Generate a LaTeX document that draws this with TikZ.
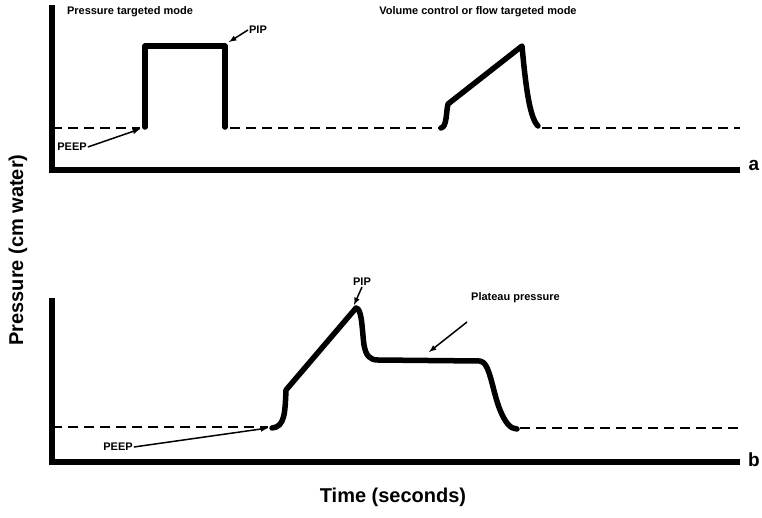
\documentclass[tikz,border=0pt]{standalone}
\usepackage{fontspec}
\setmainfont{Liberation Sans}
\usetikzlibrary{positioning}
\begin{document}
\begin{tikzpicture}[x=1pt,y=1pt,yscale=-1,xscale=1,
  axisline/.style={line width=6pt},
  waveline/.style={line width=5.5pt,line cap=round,line join=round},
  baseline/.style={line width=2.5pt,dash pattern=on 10pt off 6pt},
  pointer/.style={line width=1.5pt,-latex},
  lab/.style={font=\bfseries\fontsize{11}{12}\selectfont,inner sep=1pt}]
\useasboundingbox (0,0) rectangle (762,517);

%Panel a axes
\draw [axisline] (52,5) -- (52,170) -- (740,170);
\node [font=\bfseries\fontsize{19}{20}\selectfont] (tagA) at (754,165) {a};
%Panel a baseline
\draw [baseline] (52,128) -- (140,128);
\draw [baseline] (230,128) -- (440,128);
\draw [baseline] (542,128) -- (740,128);
%Pressure targeted pulse
\draw [waveline] (145,127) -- (145,46) -- (225,46) -- (225,127);
%Volume control wave
\draw [waveline] (441,128) .. controls (447,127) and (446,112) .. (448,104) -- (522,46) .. controls (526,90) and (530,118) .. (538,126);
\node [lab] (modeP) at (130,12) {Pressure targeted mode};
\node [lab] (modeV) at (478,12) {Volume control or flow targeted mode};
\node [lab] (pipA) at (258,30) {PIP};
\coordinate (pipAtip) at (229,42);
\draw [pointer] (pipA.west) -- (pipAtip);
\node [lab] (peepA) at (72,147) {PEEP};
\coordinate (peepAtip) at (140,129);
\draw [pointer] (peepA.east) -- (peepAtip);

%Panel b axes
\draw [axisline] (52,298) -- (52,462) -- (740,462);
\node [font=\bfseries\fontsize{19}{20}\selectfont] (tagB) at (754,460) {b};
%Panel b baseline
\draw [baseline] (52,427) -- (268,427);
\draw [baseline] (520,428) -- (740,428);
%Volume wave with plateau
\draw [waveline] (272,428) .. controls (285,427) and (285,412) .. (286,390) -- (356,308) .. controls (362,308) and (362,330) .. (364,345) .. controls (366,356) and (370,360) .. (378,360) -- (480,361) .. controls (490,362) and (492,390) .. (500,410) .. controls (505,422) and (510,429) .. (517,429);
\node [lab] (pipB) at (362,282) {PIP};
\coordinate (pipBtip) at (354,305);
\draw [pointer] (pipB.south) -- (pipBtip);
\node [lab,anchor=west] (plat) at (470,298) {Plateau pressure};
\coordinate (plattip) at (429,352);
\draw [pointer] (467,322) -- (plattip);
\node [lab] (peepB) at (118,447) {PEEP};
\coordinate (peepBtip) at (268,428);
\draw [pointer] (peepB.east) -- (peepBtip);

%Axis titles
\node [font=\bfseries\fontsize{20}{22}\selectfont,rotate=90] (ytitle) at (18,250) {Pressure (cm water)};
\node [font=\bfseries\fontsize{20}{22}\selectfont] (xtitle) at (393,497) {Time (seconds)};
\end{tikzpicture}
\end{document}
